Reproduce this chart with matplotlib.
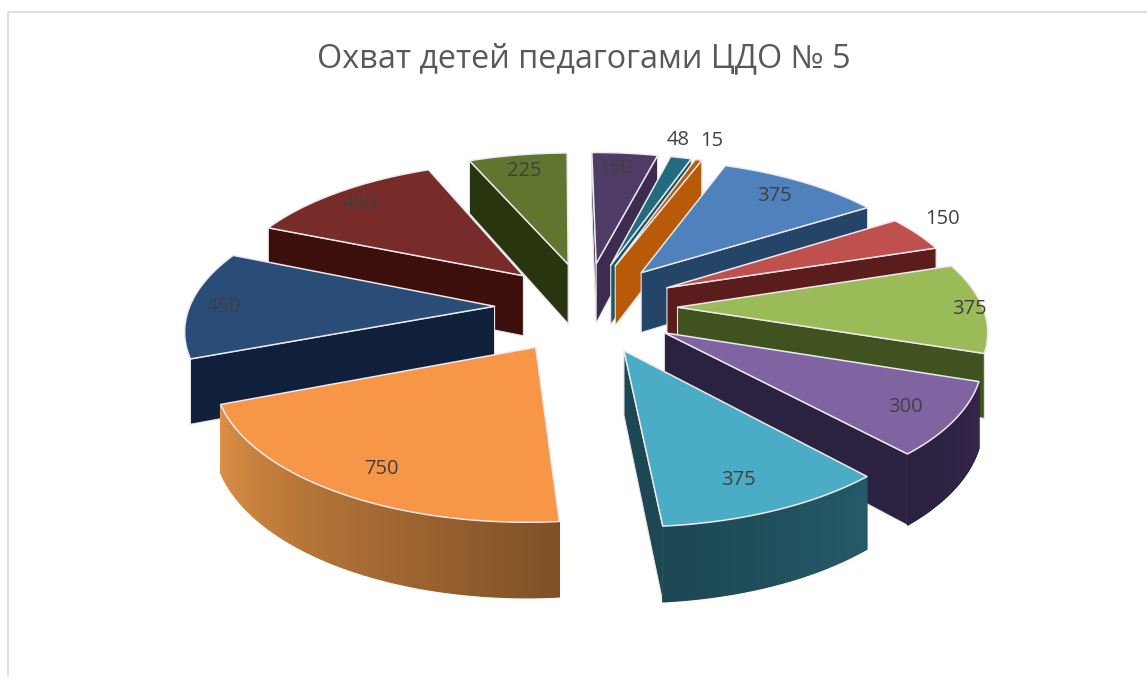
import numpy as np
import matplotlib
matplotlib.use("Agg")
import matplotlib.pyplot as plt
from matplotlib.colors import to_rgb
from matplotlib.patches import Polygon

TITLE = "Охват детей педагогами ЦДО № 5"
values = [150, 48, 15, 375, 150, 375, 300, 375, 750, 450, 450, 225]
top_colors = ["#4f3c66", "#236c7f", "#b85a08", "#4f81bd", "#c0504d", "#9bbb59",
              "#8064a2", "#4bacc6", "#f79646", "#2a4d78", "#772c2a", "#5f7530"]
wall_a = ["#3c2d50", "#1b5563", "#b85a08", "#244468", "#5a1d1c", "#3f5220",
          "#33264a", "#255a68", "#7f5026", "#10203a", "#3c0e0c", "#28350f"]
wall_b = ["#3c2d50", "#1b5563", "#b85a08", "#244468", "#5a1d1c", "#3f5220",
          "#2b2140", "#1c4753", "#dc8f45", "#10203a", "#3c0e0c", "#28350f"]
label_xy = [(615, 168), (678, 140), (712, 141), (774, 196), (942, 219), (969, 309),
            (905, 407), (738, 480), (381, 469), (224, 307), (360, 204), (524, 171)]

CX, CY, A, B, P = 586, 307, 305, 138, 0.14
EX, EY, H = 0.30, 0.33, 62
START = np.radians(-0.7)
VIEW = (0.0, -1 / P)


def project(X, Y, drop=0.0):
    s = 1 / (1 + P * Y)
    return CX + A * X * s, CY - B * Y * s + drop * s


def faces_viewer(nx, ny, px, py):
    return nx * (VIEW[0] - px) + ny * (VIEW[1] - py) > 0


fig = plt.figure(figsize=(11.47, 6.77), dpi=100)
ax = fig.add_axes([0, 0, 1, 1])
ax.set_xlim(0, 1147)
ax.set_ylim(677, 0)
ax.axis("off")

# chart-area frame (left and top only are in the crop)
ax.plot([8, 8, 1147], [677, 11.5, 11.5], color="#d9d9d9", lw=1.2)

vals = np.array(values, float)
edges = START + np.concatenate([[0], np.cumsum(vals)]) / vals.sum() * 2 * np.pi

slices = []
for i in range(len(vals)):
    t0, t1 = edges[i], edges[i + 1]
    m = (t0 + t1) / 2
    slices.append((np.cos(m), i, t0, t1, EX * np.sin(m), EY * np.cos(m)))

# far slices first
for z, (cm, i, t0, t1, ax0, ay0) in enumerate(sorted(slices, reverse=True)):
    z = z + 2
    th = np.linspace(t0, t1, 80)
    ox, oy = ax0 + np.sin(th), ay0 + np.cos(th)
    ca, cb = np.array(to_rgb(wall_a[i])), np.array(to_rgb(wall_b[i]))
    # cut faces that look towards the viewer
    cuts = [(ox[0], oy[0], -np.cos(t0), np.sin(t0)), (ox[-1], oy[-1], np.cos(t1), -np.sin(t1))]
    for tx, ty, nx, ny in cuts:
        if not faces_viewer(nx, ny, ax0, ay0):
            continue
        quad = [project(ax0, ay0), project(tx, ty), project(tx, ty, H), project(ax0, ay0, H)]
        ax.add_patch(Polygon(quad, closed=True, facecolor=wall_b[i] if i != 8 else wall_a[i],
                             edgecolor="#e8e4e8", lw=0.8, zorder=z))
    # outer wall, strip by strip (only the slices that point at the viewer show one)
    if cm < -0.3:
        for j in range(len(th) - 1):
            tm = (th[j] + th[j + 1]) / 2
            if not faces_viewer(np.sin(tm), np.cos(tm), ox[j], oy[j]):
                continue
            f = j / (len(th) - 2)
            col = ca + (cb - ca) * f
            quad = [project(ox[j], oy[j]), project(ox[j + 1], oy[j + 1]),
                    project(ox[j + 1], oy[j + 1], H), project(ox[j], oy[j], H)]
            ax.add_patch(Polygon(quad, closed=True, facecolor=col, edgecolor=col, lw=0.9, zorder=z))
    # top face
    pts = [project(ax0, ay0)] + [project(x, y) for x, y in zip(ox, oy)]
    ax.add_patch(Polygon(pts, closed=True, facecolor=top_colors[i], edgecolor="#efe9ee",
                         lw=1.1, joinstyle="round", zorder=z))

for (x, y), v in zip(label_xy, values):
    ax.text(x, y, str(v), ha="center", va="center", fontsize=14.5, color="#404040",
            family="Open Sans", zorder=30)

ax.text(584, 58.5, TITLE, ha="center", va="center", fontsize=23.3, color="#595959",
        family="Open Sans", zorder=30)

fig.savefig("out.png", dpi=100)
